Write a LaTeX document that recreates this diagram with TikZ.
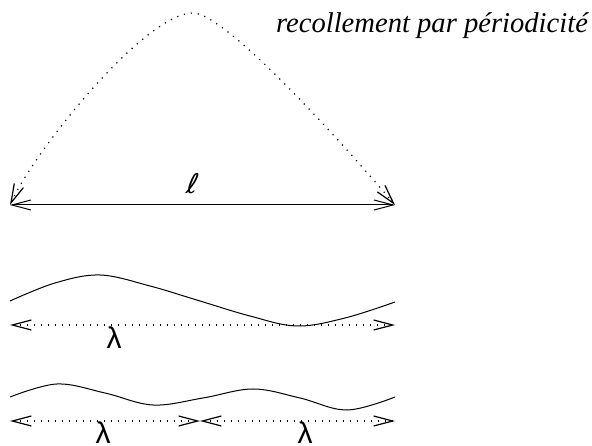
\documentclass[tikz,border=0pt]{standalone}
\usepackage{fontspec}
\setmainfont{Liberation Serif}
\newfontfamily\lamfont{Liberation Sans}
\newfontfamily\ellfont{DejaVu Sans}
\usetikzlibrary{arrows.meta}
\tikzset{
  tip/.style={>={Straight Barb[length=19pt,width=10pt]}},
  dotline/.style={line width=1.2pt,dash pattern=on 1.2pt off 5.8pt,tip},
  solidline/.style={line width=1pt,tip},
  lab/.style={inner sep=0pt,font=\lamfont\fontsize{30}{32}\selectfont},
}
\begin{document}
\begin{tikzpicture}[x=1pt,y=-1pt]
\useasboundingbox (0,0) rectangle (592,446);
% top figure
\coordinate (L) at (10,205);
\coordinate (R) at (395,205);
\coordinate (T) at (193,13);
\draw[dotline,<->] (L) .. controls (35,150) and (145,13) .. (T) .. controls (225,13) and (340,140) .. (R);
\draw[solidline,<->] (L) -- (R);
\node[inner sep=0pt,font=\ellfont\fontsize{27}{30}\selectfont,xslant=0.2] (ell) at (193,184) {ℓ};
\node[inner sep=0pt,font=\fontsize{28.6}{30}\itshape] (titre) at (432,26) {recollement par périodicité};
% middle figure
\coordinate (A1) at (10,301);
\coordinate (A2) at (395,302);
\draw[line width=1pt] plot[smooth,tension=0.6] coordinates {(A1) (55,283) (100,275) (150,286) (200,301) (250,316) (297,326) (345,318) (A2)};
\coordinate (B1) at (10,325);
\coordinate (B2) at (395,325);
\draw[dotline,<->] (B1) -- (B2);
\node[lab] (lam1) at (114,338) {λ};
% bottom figure
\coordinate (C1) at (10,397);
\coordinate (C2) at (395,397);
\draw[line width=1pt] plot[smooth,tension=0.6] coordinates {(C1) (57,384) (105,393) (153,405) (203,398) (253,389) (300,398) (347,410) (C2)};
\coordinate (D1) at (10,421);
\coordinate (D2) at (200,421);
\coordinate (D3) at (395,421);
\draw[dotline,<->] (D1) -- (D2);
\draw[dotline,<->] (D2) -- (D3);
\node[lab] (lam2) at (103,433) {λ};
\node[lab] (lam3) at (305,433) {λ};
\end{tikzpicture}
\end{document}
